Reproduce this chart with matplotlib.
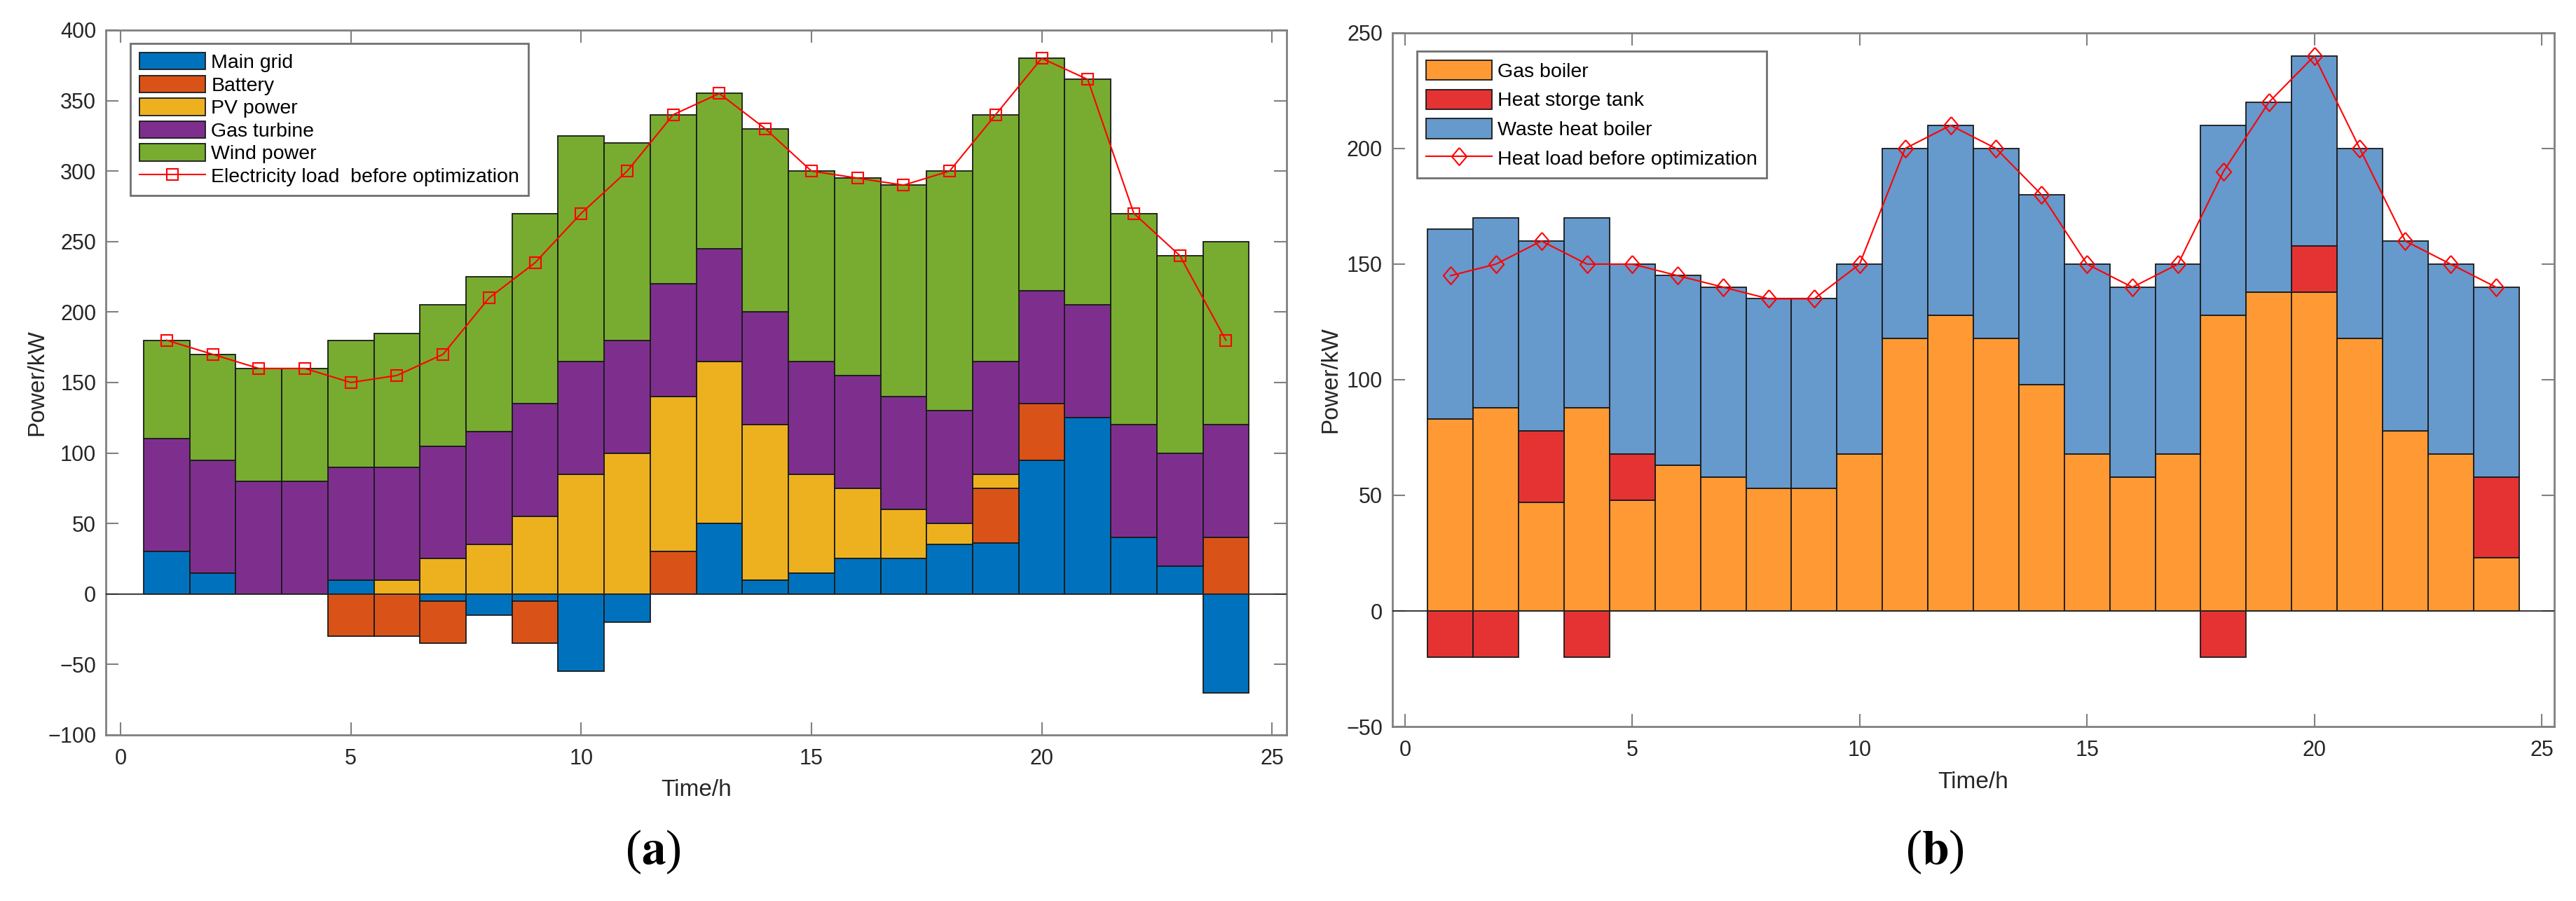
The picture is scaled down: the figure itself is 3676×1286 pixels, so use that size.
import numpy as np
import matplotlib
matplotlib.use("Agg")
import matplotlib.pyplot as plt

plt.rcParams['font.family'] = ['Liberation Sans', 'DejaVu Sans']
plt.rcParams['mathtext.fontset'] = 'stix'

hours = np.arange(1, 25)

# (a) electric power balance, kW
main_grid = [30, 15, 0, 0, 10, 0, -5, -15, -5, -55, -20, 0,
             50, 10, 15, 25, 25, 35, 36, 95, 125, 40, 20, -70]
battery = [0, 0, 0, 0, -30, -30, -30, 0, -30, 0, 0, 30,
           0, 0, 0, 0, 0, 0, 39, 40, 0, 0, 0, 40]
pv_power = [0, 0, 0, 0, 0, 10, 25, 35, 55, 85, 100, 110,
            115, 110, 70, 50, 35, 15, 10, 0, 0, 0, 0, 0]
gas_turbine = [80, 80, 80, 80, 80, 80, 80, 80, 80, 80, 80, 80,
               80, 80, 80, 80, 80, 80, 80, 80, 80, 80, 80, 80]
wind_power = [70, 75, 80, 80, 90, 95, 100, 110, 135, 160, 140, 120,
              110, 130, 135, 140, 150, 170, 175, 165, 160, 150, 140, 130]
elec_load = [180, 170, 160, 160, 150, 155, 170, 210, 235, 270, 300, 340,
             355, 330, 300, 295, 290, 300, 340, 380, 365, 270, 240, 180]

# (b) heat power balance, kW
gas_boiler = [83, 88, 47, 88, 48, 63, 58, 53, 53, 68, 118, 128,
              118, 98, 68, 58, 68, 128, 138, 138, 118, 78, 68, 23]
heat_tank = [-20, -20, 31, -20, 20, 0, 0, 0, 0, 0, 0, 0,
             0, 0, 0, 0, 0, -20, 0, 20, 0, 0, 0, 35]
waste_heat = [82, 82, 82, 82, 82, 82, 82, 82, 82, 82, 82, 82,
              82, 82, 82, 82, 82, 82, 82, 82, 82, 82, 82, 82]
heat_load = [145, 150, 160, 150, 150, 145, 140, 135, 135, 150, 200, 210,
             200, 180, 150, 140, 150, 190, 220, 240, 200, 160, 150, 140]

elec_names = ['Main grid', 'Battery', 'PV power', 'Gas turbine', 'Wind power']
elec_colors = ['#0072BD', '#D95319', '#EDB120', '#7E2F8E', '#77AC30']
heat_names = ['Gas boiler', 'Heat storge tank', 'Waste heat boiler']
heat_colors = ['#FF9933', '#E53333', '#6699CC']


def stacked_bars(ax, series, names, colors):
    # positive parts stack upward, negative parts downward (like MATLAB)
    pos = np.zeros(len(hours))
    neg = np.zeros(len(hours))
    handles = []
    for vals, name, col in zip(series, names, colors):
        v = np.asarray(vals, dtype=float)
        bottom = np.where(v >= 0, pos, neg)
        b = ax.bar(hours, v, width=1.0, bottom=bottom, color=col,
                   edgecolor='#1a1a1a', linewidth=1.3, label=name, zorder=2)
        handles.append(b)
        pos = pos + np.clip(v, 0, None)
        neg = neg + np.clip(v, None, 0)
    return handles


def style_axes(ax, ylim, xpad):
    ax.set_xlim(-xpad, 25 + xpad)
    ax.set_ylim(*ylim)
    ax.set_xticks(np.arange(0, 26, 5))
    ax.set_yticks(np.arange(ylim[0], ylim[1] + 1, 50))
    ax.axhline(0, color='#262626', linewidth=1.3, zorder=3)
    for s in ax.spines.values():
        s.set_color('#808080')
        s.set_linewidth(2)
    ax.tick_params(direction='in', length=13, width=1.5, color='#808080',
                   top=True, right=True, labelsize=22, labelcolor='#262626')
    ax.tick_params(axis='x', pad=14)
    ax.tick_params(axis='y', pad=10)


fig = plt.figure(figsize=(36.76, 12.86), dpi=100)
ax1 = fig.add_axes([0.0411, 0.1843, 0.4584, 0.7823])
ax2 = fig.add_axes([0.5405, 0.1936, 0.4511, 0.7699])

# (a)
h1 = stacked_bars(ax1, [main_grid, battery, pv_power, gas_turbine, wind_power],
                  elec_names, elec_colors)
l1, = ax1.plot(hours, elec_load, '-s', color='#FF0000', linewidth=1.5,
               markersize=11.5, markerfacecolor='none', markeredgewidth=1.5,
               label='Electricity load  before optimization', zorder=4)
style_axes(ax1, (-100, 400), 0.32)
ax1.set_xlabel('Time/h', fontsize=24, color='#262626')
ax1.set_ylabel('Power/kW', fontsize=24, color='#262626')
ax1.xaxis.set_label_coords(0.5, -0.063)
ax1.yaxis.set_label_coords(-0.049, 0.5)
leg1 = ax1.legend(handles=h1 + [l1], loc='upper left', bbox_to_anchor=(0.0208, 0.981),
                  borderaxespad=0, fontsize=20.5, handlelength=3.3, handleheight=0.95,
                  handletextpad=0.3, labelspacing=0.16, borderpad=0.45,
                  fancybox=False, framealpha=1)
leg1.get_frame().set_edgecolor('#707070')
leg1.get_frame().set_linewidth(2)

# (b)
diamond = [(0, 1), (0.85, 0), (0, -1), (-0.85, 0), (0, 1)]
h2 = stacked_bars(ax2, [gas_boiler, heat_tank, waste_heat], heat_names, heat_colors)
l2, = ax2.plot(hours, heat_load, '-', marker=diamond, color='#FF0000', linewidth=1.5,
               markersize=18, markerfacecolor='none', markeredgewidth=1.5,
               label='Heat load before optimization', zorder=4)
style_axes(ax2, (-50, 250), 0.28)
ax2.set_xlabel('Time/h', fontsize=24, color='#262626')
ax2.set_ylabel('Power/kW', fontsize=24, color='#262626')
ax2.xaxis.set_label_coords(0.5, -0.065)
ax2.yaxis.set_label_coords(-0.044, 0.5)
leg2 = ax2.legend(handles=h2 + [l2], loc='upper left', bbox_to_anchor=(0.0211, 0.9737),
                  borderaxespad=0, fontsize=20.5, handlelength=3.3, handleheight=1.15,
                  handletextpad=0.3, labelspacing=0.42, borderpad=0.45,
                  fancybox=False, framealpha=1)
leg2.get_frame().set_edgecolor('#707070')
leg2.get_frame().set_linewidth(2)

# panel labels
fig.text(0.2535, 0.054, r'($\mathbf{a}$)', ha='center', va='center',
         fontsize=50, family='Liberation Serif')
fig.text(0.751, 0.054, r'($\mathbf{b}$)', ha='center', va='center',
         fontsize=50, family='Liberation Serif')

fig.savefig('out.png', dpi=100)
